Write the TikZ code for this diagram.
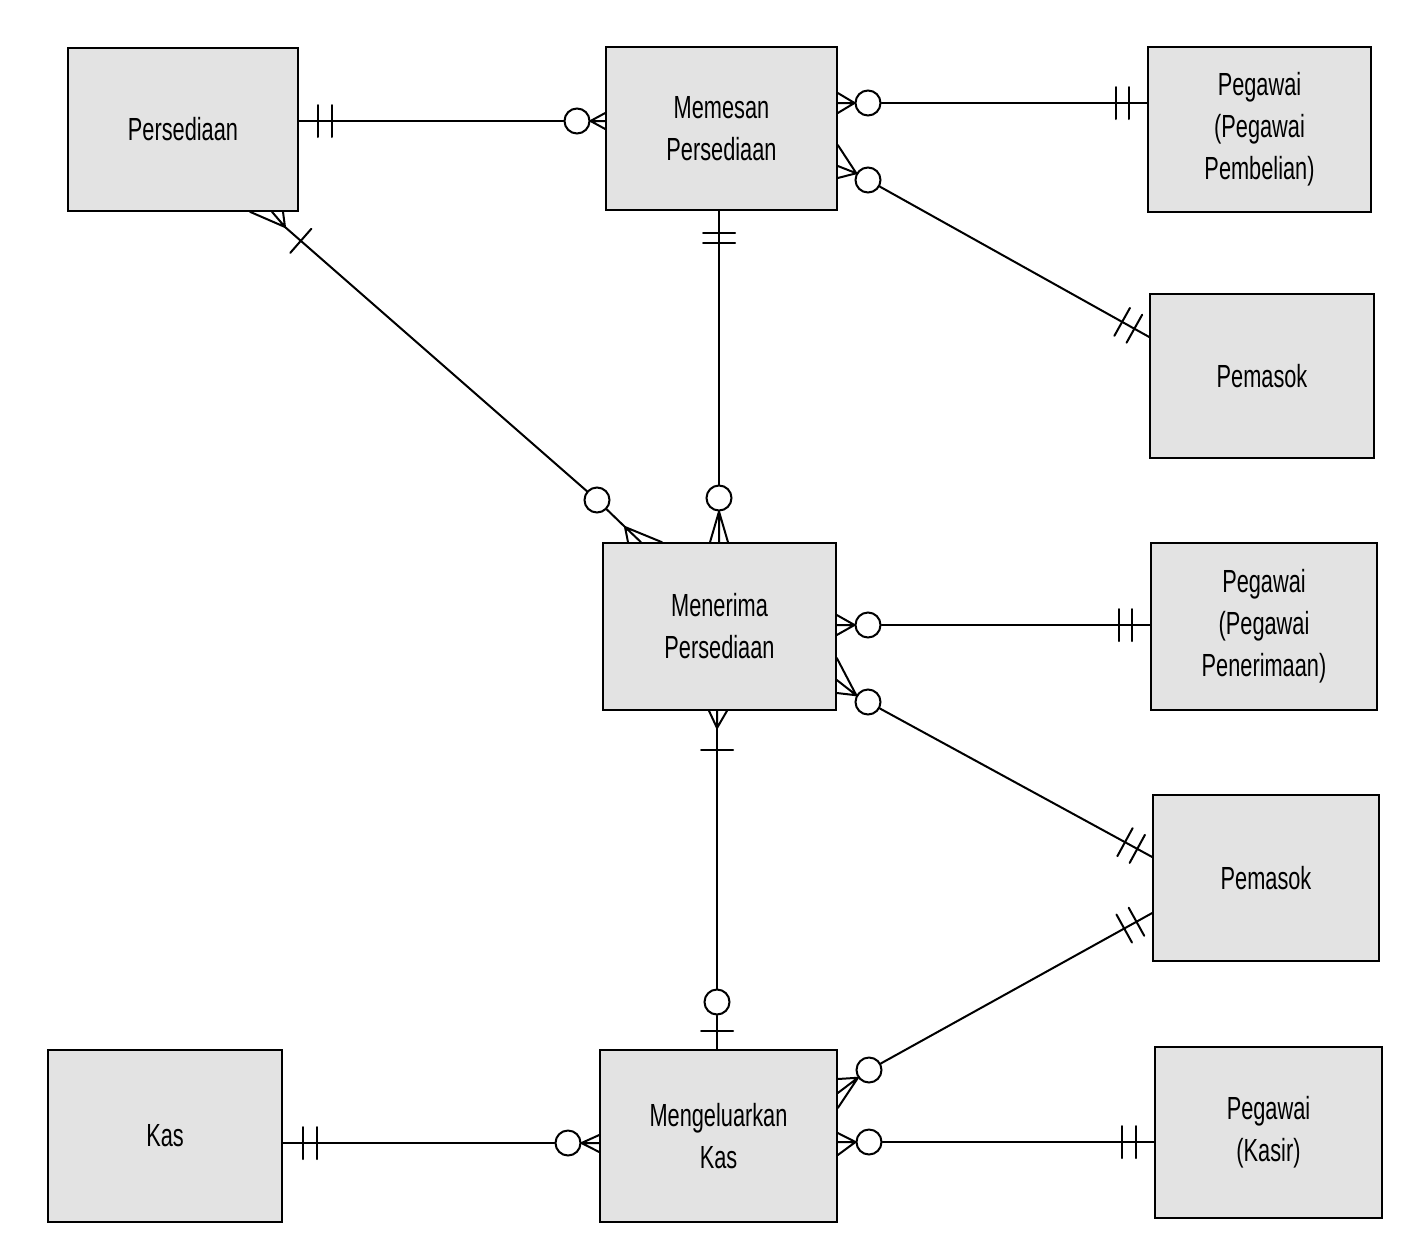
\documentclass[tikz,border=0pt]{standalone}
\usepackage{fontspec}
\setmainfont{Liberation Sans}[FakeStretch=0.68]
\usetikzlibrary{calc}
\newcommand\erbar[3]{\path ($(#1)!#3!(#2)$) coordinate (tmpb);
  \draw[rel] ($(tmpb)!16pt!90:(#1)$) -- ($(tmpb)!16pt!-90:(#1)$);}
\begin{document}
\begin{tikzpicture}[x=1pt,y=-1pt,
  ent/.style={draw=black, line width=1.6pt, fill=black!11, inner sep=0pt,
    font=\fontsize{32}{42}\selectfont, align=center},
  rel/.style={line width=2pt, line cap=round},
  zero/.style={draw, line width=2pt, fill=white, circle, minimum size=25pt, inner sep=0pt}]
\useasboundingbox (0,0) rectangle (1423,1251);
% entities
\node[ent, minimum width=230pt, minimum height=163pt] (pers) at (183,129.5) {Persediaan};
\node[ent, minimum width=231pt, minimum height=163pt] (mem) at (721.5,128.5) {Memesan\\Persediaan};
\node[ent, minimum width=223pt, minimum height=165pt] (pp) at (1259.5,129.5) {Pegawai\\(Pegawai\\Pembelian)};
\node[ent, minimum width=224pt, minimum height=164pt] (pem1) at (1262,376) {Pemasok};
\node[ent, minimum width=233pt, minimum height=167pt] (men) at (719.5,626.5) {Menerima\\Persediaan};
\node[ent, minimum width=226pt, minimum height=167pt] (ppn) at (1264,626.5) {Pegawai\\(Pegawai\\Penerimaan)};
\node[ent, minimum width=226pt, minimum height=166pt] (pem2) at (1266,878) {Pemasok};
\node[ent, minimum width=234pt, minimum height=172pt] (kas) at (165,1136) {Kas};
\node[ent, minimum width=237pt, minimum height=172pt] (mng) at (718.5,1136) {Mengeluarkan\\Kas};
\node[ent, minimum width=227pt, minimum height=171pt] (ksr) at (1268.5,1132.5) {Pegawai\\(Kasir)};
% circles
\node[zero] (c1) at (577,121) {};
\node[zero] (c2) at (868,103) {};
\node[zero] (c3) at (868,180) {};
\node[zero] (c4) at (597,500) {};
\node[zero] (c5) at (719,498) {};
\node[zero] (c6) at (868,625) {};
\node[zero] (c7) at (868,702) {};
\node[zero] (c8) at (717,1002) {};
\node[zero] (c9) at (568,1143) {};
\node[zero] (c10) at (869,1070) {};
\node[zero] (c11) at (869,1142) {};
% 1 Persediaan - Memesan
\coordinate (e1) at (pers.east |- 0,121);
\draw[rel] (e1) -- (c1);
\erbar{e1}{c1}{19pt}\erbar{e1}{c1}{33pt}
\draw[rel] (c1.east) -- (mem.west |- 0,113) (c1.east) -- (mem.west |- 0,121) (c1.east) -- (mem.west |- 0,129);
% 2 Memesan - Pegawai Pembelian
\coordinate (e2) at (pp.west |- 0,103);
\draw[rel] (e2) -- (c2);
\erbar{e2}{c2}{18pt}\erbar{e2}{c2}{31pt}
\draw[rel] (c2.west) -- (mem.east |- 0,93) (c2.west) -- (mem.east |- 0,103) (c2.west) -- (mem.east |- 0,113);
% 3 Memesan - Pemasok
\coordinate (e3) at (pem1.west |- 0,337);
\draw[rel] (e3) -- (c3);
\erbar{e3}{c3}{17pt}\erbar{e3}{c3}{31pt}
\draw[rel] (c3.150) -- (mem.east |- 0,145) (c3.150) -- (mem.east |- 0,166) (c3.150) -- (mem.east |- 0,178);
% 4 Persediaan - Menerima
\coordinate (v4a) at (285,227);
\coordinate (v4b) at (625,527);
\draw[rel] (v4a) -- (c4) (c4) -- (v4b);
\draw[rel] (v4a) -- (pers.south -| 250,0) (v4a) -- (pers.south -| 272,0) (v4a) -- (pers.south -| 283,0);
\erbar{v4a}{c4}{21pt}
\draw[rel] (v4b) -- (men.north -| 628,0) (v4b) -- (men.north -| 641,0) (v4b) -- (men.north -| 662,0);
% 5 Memesan - Menerima
\coordinate (e5) at (mem.south -| 719,0);
\draw[rel] (e5) -- (c5);
\erbar{e5}{c5}{22pt}\erbar{e5}{c5}{32pt}
\draw[rel] (c5.south) -- (men.north -| 710,0) (c5.south) -- (men.north -| 719,0) (c5.south) -- (men.north -| 728,0);
% 6 Menerima - Pegawai Penerimaan
\coordinate (e6) at (ppn.west |- 0,625);
\draw[rel] (e6) -- (c6);
\erbar{e6}{c6}{18pt}\erbar{e6}{c6}{31pt}
\draw[rel] (c6.west) -- (men.east |- 0,615) (c6.west) -- (men.east |- 0,625) (c6.west) -- (men.east |- 0,635);
% 7 Menerima - Pemasok
\coordinate (e7) at (pem2.west |- 0,857);
\draw[rel] (e7) -- (c7);
\erbar{e7}{c7}{17pt}\erbar{e7}{c7}{31pt}
\draw[rel] (c7.150) -- (men.east |- 0,658) (c7.150) -- (men.east |- 0,680) (c7.150) -- (men.east |- 0,693);
% 8 Menerima - Mengeluarkan
\coordinate (v8) at (717,728);
\coordinate (e8) at (mng.north -| 717,0);
\draw[rel] (v8) -- (c8) (c8) -- (e8);
\draw[rel] (v8) -- (men.south -| 709,0) (v8) -- (men.south -| 717,0) (v8) -- (men.south -| 727,0);
\erbar{v8}{c8}{22pt}
\erbar{e8}{c8}{18pt}
% 9 Kas - Mengeluarkan
\coordinate (e9) at (kas.east |- 0,1143);
\draw[rel] (e9) -- (c9);
\erbar{e9}{c9}{20pt}\erbar{e9}{c9}{34pt}
\draw[rel] (c9.east) -- (mng.west |- 0,1135) (c9.east) -- (mng.west |- 0,1143) (c9.east) -- (mng.west |- 0,1152);
% 10 Mengeluarkan - Pemasok
\coordinate (e10) at (pem2.west |- 0,913);
\draw[rel] (e10) -- (c10);
\erbar{e10}{c10}{18pt}\erbar{e10}{c10}{32pt}
\draw[rel] (c10.215) -- (mng.east |- 0,1079) (c10.215) -- (mng.east |- 0,1093) (c10.215) -- (mng.east |- 0,1108);
% 11 Mengeluarkan - Kasir
\coordinate (e11) at (ksr.west |- 0,1142);
\draw[rel] (e11) -- (c11);
\erbar{e11}{c11}{18pt}\erbar{e11}{c11}{32pt}
\draw[rel] (c11.west) -- (mng.east |- 0,1133) (c11.west) -- (mng.east |- 0,1142) (c11.west) -- (mng.east |- 0,1155);
\end{tikzpicture}
\end{document}
